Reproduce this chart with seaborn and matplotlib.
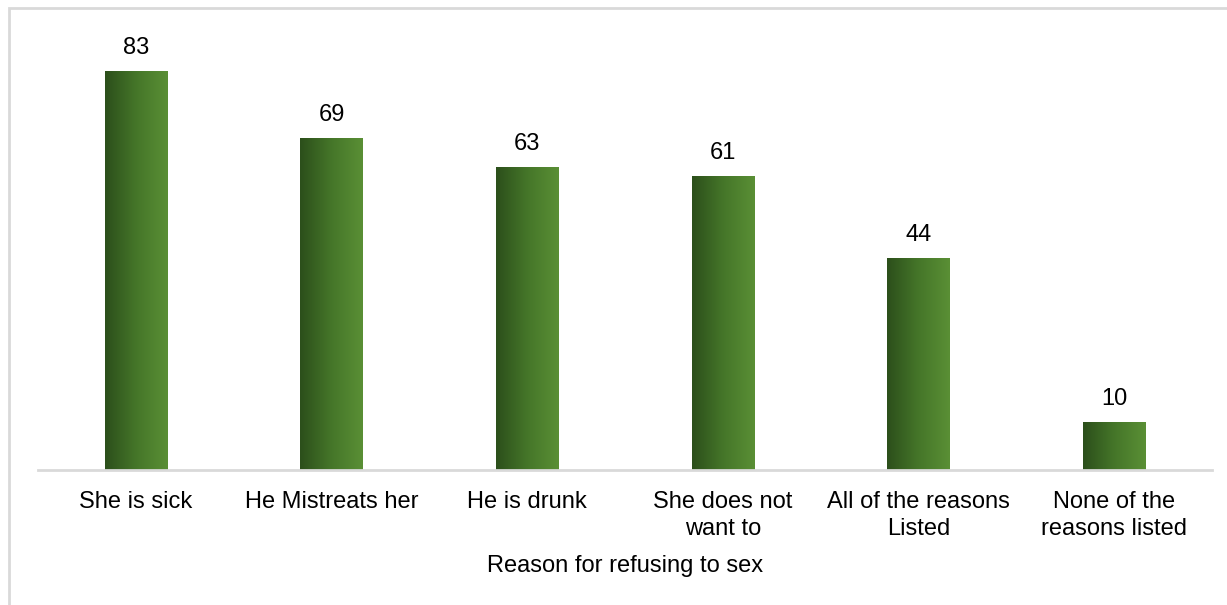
import numpy as np
import pandas as pd
import matplotlib
matplotlib.use('Agg')
import matplotlib.pyplot as plt
import seaborn as sns
from matplotlib.colors import LinearSegmentedColormap
from matplotlib.patches import Rectangle

reasons = ['She is sick', 'He Mistreats her', 'He is drunk',
           'She does not\nwant to', 'All of the reasons\nListed', 'None of the\nreasons listed']
percent = [83, 69, 63, 61, 44, 10]

df = pd.DataFrame({'reason': reasons, 'percent': percent})

sns.set_style('white')
plt.rcParams['font.family'] = ['Liberation Sans', 'DejaVu Sans']
plt.rcParams['text.color'] = 'black'
plt.rcParams['xtick.color'] = 'black'
plt.rcParams['axes.labelcolor'] = 'black'

fig = plt.figure(figsize=(12.27, 6.05), dpi=100)
ax = fig.add_axes([0.031, 0.223, 0.957, 0.716])

sns.barplot(data=df, x='reason', y='percent', width=0.32, color='#3f6e26', ax=ax)

# horizontal gradient on each bar, dark green on the left
grad = LinearSegmentedColormap.from_list('g', ['#2c4f1b', '#457629', '#5a8f35'])
for p in ax.patches:
    x0, y0 = p.get_x(), p.get_y()
    w, h = p.get_width(), p.get_height()
    p.set_facecolor('none')
    p.set_edgecolor('none')
    im = ax.imshow(np.linspace(0, 1, 100).reshape(1, -1), cmap=grad, aspect='auto',
                   extent=[x0, x0 + w, y0, y0 + h], zorder=2)
    im.set_clip_path(p)
    ax.text(x0 + w / 2, h + 2.5, str(int(h)), ha='center', va='bottom', fontsize=17)

ax.set_xlim(-0.5, len(reasons) - 0.5)
ax.set_ylim(0, 90)
ax.set_yticks([])
ax.set_ylabel('')
ax.set_xlabel('Reason for refusing to sex', fontsize=17, labelpad=11)
ax.tick_params(axis='x', labelsize=17, length=0, pad=15)
for t in ax.get_xticklabels():
    t.set_linespacing(1.3)
for s in ['top', 'right', 'left']:
    ax.spines[s].set_visible(False)
ax.spines['bottom'].set_color('#d9d9d9')
ax.spines['bottom'].set_linewidth(2)
ax.spines['bottom'].set_zorder(3)

# light frame around the chart area
fig.patches.append(Rectangle((9 / 1227, -0.1), 1.2, 1 - 8 / 605 + 0.1, transform=fig.transFigure,
                             fill=False, edgecolor='#d9d9d9', linewidth=2))

fig.savefig('out.png', dpi=100)
